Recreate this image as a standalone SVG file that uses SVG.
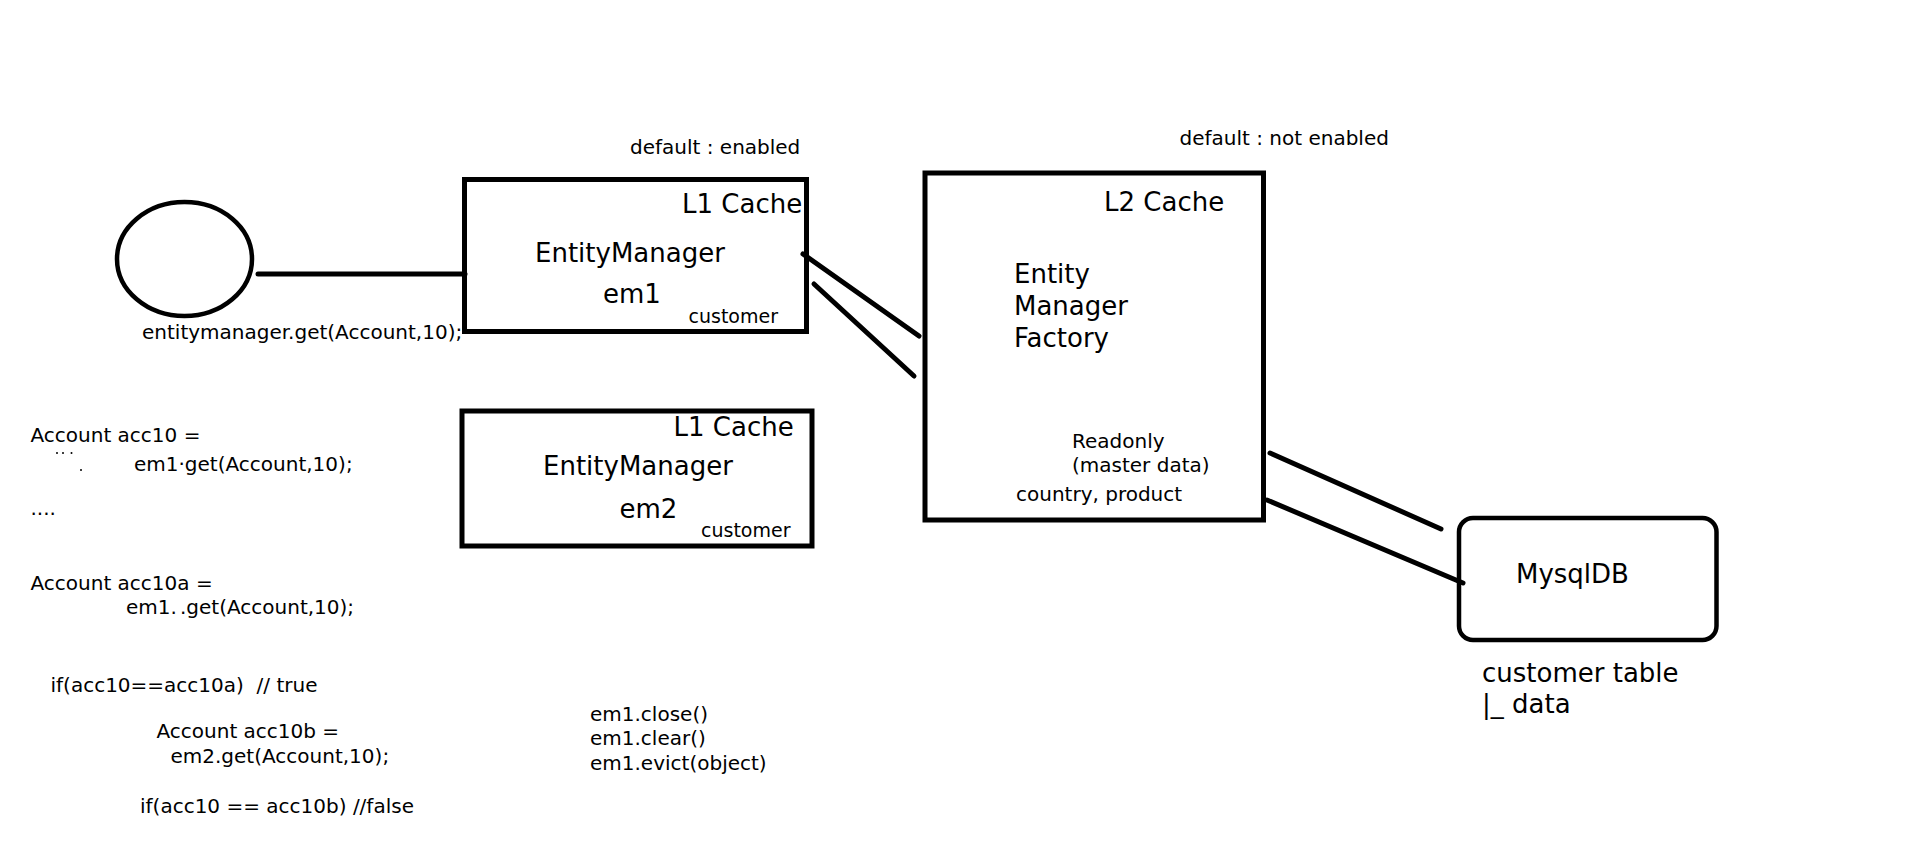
<svg xmlns="http://www.w3.org/2000/svg" width="1914" height="854" viewBox="0 0 1914 854">
  <style>
    text { font-family: "DejaVu Sans", Verdana, sans-serif; fill: #000; white-space: pre; }
    .big { font-size: 26px; }
    .med { font-size: 20px; }
    .small { font-size: 19px; }
    .box { fill: none; stroke: #000; stroke-width: 5; }
    .conn { stroke: #000; stroke-width: 5; stroke-linecap: round; fill: none; }
  </style>
  <rect x="0" y="0" width="1914" height="854" fill="#fff"/>

  <g id="connectors">
    <line class="conn" x1="258" y1="274" x2="465" y2="274" stroke-linecap="butt"/>
    <line class="conn" x1="803" y1="254" x2="919" y2="336"/>
    <line class="conn" x1="814" y1="284" x2="914" y2="376"/>
    <line class="conn" x1="1270" y1="453" x2="1441" y2="529"/>
    <line class="conn" x1="1267" y1="500" x2="1463" y2="583"/>
  </g>

  <g id="client">
    <ellipse cx="184.5" cy="259" rx="67.5" ry="57" fill="none" stroke="#000" stroke-width="4.5"/>
    <text class="med" x="142" y="339">entitymanager.get(Account,10);</text>
  </g>

  <g id="em1">
    <text class="med" x="630" y="154">default : enabled</text>
    <rect class="box" x="464.5" y="179.5" width="342" height="152"/>
    <text class="big" x="682" y="212.5">L1 Cache</text>
    <text class="big" x="535" y="261.5">EntityManager</text>
    <text class="big" x="603" y="302.5">em1</text>
    <text class="small" x="688.5" y="323">customer</text>
  </g>

  <g id="em2">
    <rect class="box" x="462" y="411" width="350" height="135"/>
    <text class="big" x="673.5" y="436">L1 Cache</text>
    <text class="big" x="543" y="475">EntityManager</text>
    <text class="big" x="619.5" y="518">em2</text>
    <text class="small" x="701" y="537">customer</text>
  </g>

  <g id="emf">
    <text class="med" x="1179.5" y="145">default : not enabled</text>
    <rect class="box" x="925" y="173" width="338.5" height="347"/>
    <text class="big" x="1104" y="210.5">L2 Cache</text>
    <text class="big" x="1014" y="283">Entity</text>
    <text class="big" x="1014" y="315">Manager</text>
    <text class="big" x="1014" y="346.5">Factory</text>
    <text class="med" x="1072" y="448">Readonly</text>
    <text class="med" x="1072" y="471.5">(master data)</text>
    <text class="med" x="1016" y="500.5">country, product</text>
  </g>

  <g id="mysql">
    <rect x="1459" y="518" width="257.5" height="122" rx="14" ry="14" fill="none" stroke="#000" stroke-width="4.5"/>
    <text class="big" x="1516" y="583">MysqlDB</text>
    <text class="big" x="1482" y="681.5">customer table</text>
    <text class="big" x="1482" y="713">|_ data</text>
  </g>

  <g id="code-left">
    <text class="med" x="30.5" y="441.5">Account acc10 =</text>
    <circle cx="57" cy="453" r="1" fill="#000"/>
    <circle cx="63" cy="453" r="1" fill="#000"/>
    <circle cx="71.5" cy="453" r="1" fill="#000"/>
    <circle cx="81" cy="470" r="1" fill="#000"/>
    <text class="med" x="134" y="471">em1·get(Account,10);</text>
    <text class="med" x="30.5" y="515">....</text>
    <text class="med" x="30.5" y="590">Account acc10a =</text>
    <text class="med" x="126" y="614">em1.</text>
    <text class="med" x="180" y="614">.get(Account,10);</text>
    <text class="med" x="50.5" y="691.5">if(acc10==acc10a)  // true</text>
    <text class="med" x="156.5" y="737.5">Account acc10b =</text>
    <text class="med" x="170.5" y="762.5">em2.get(Account,10);</text>
    <text class="med" x="140" y="812.5">if(acc10 == acc10b) //false</text>
  </g>

  <g id="code-mid">
    <text class="med" x="590" y="720.5">em1.close()</text>
    <text class="med" x="590" y="745">em1.clear()</text>
    <text class="med" x="590" y="769.5">em1.evict(object)</text>
  </g>
</svg>
